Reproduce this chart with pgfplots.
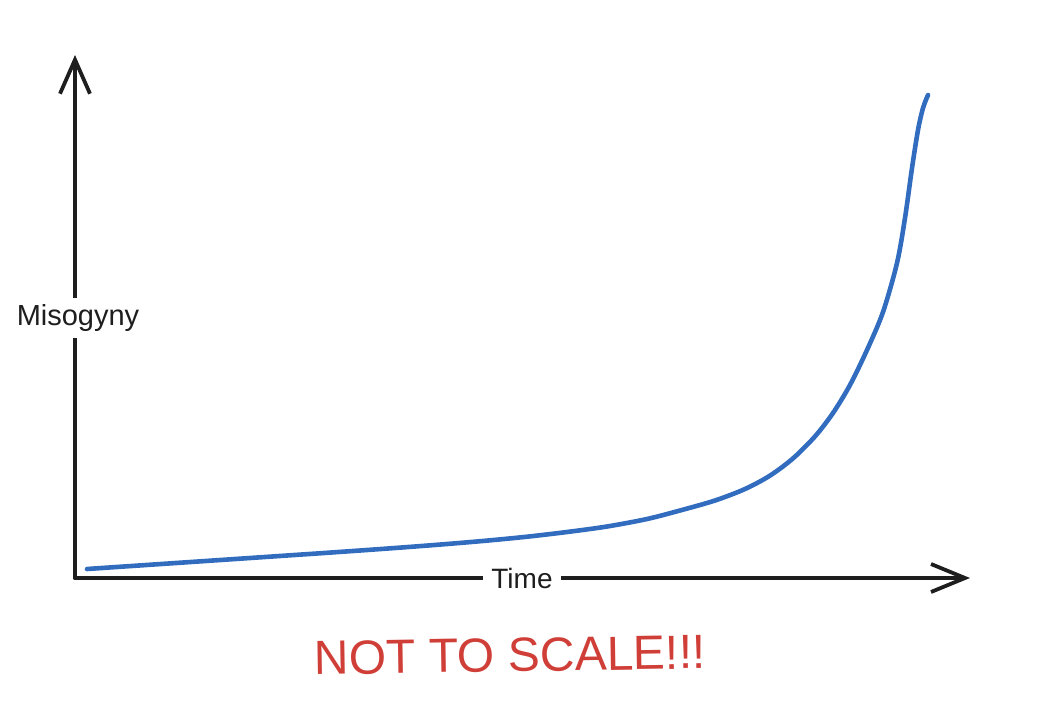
\documentclass[border=0pt]{standalone}
\usepackage{pgfplots}
\pgfplotsset{compat=1.18}
\usepackage{fontspec}
\setmainfont{Liberation Sans}
\usetikzlibrary{arrows.meta}
\definecolor{curveblue}{RGB}{49,108,191}
\definecolor{scalered}{RGB}{208,62,56}
\definecolor{axisblack}{RGB}{30,30,30}
\begin{document}
\begin{tikzpicture}
\begin{axis}[
  at={(0,0)}, anchor=origin,
  scale only axis, width=447.5pt, height=261.5pt,
  xmin=0, xmax=895, ymin=0, ymax=523,
  hide axis, clip=false,
]
% axes
\addplot[axisblack, line width=1.9pt, line cap=round, -{Straight Barb[length=17pt,width=14pt,line width=1.9pt]}]
  coordinates {(0,0) (895,0)};
\addplot[axisblack, line width=1.9pt, line cap=round, -{Straight Barb[length=17pt,width=15pt,line width=1.9pt]}]
  coordinates {(0,0) (0,523)};
% curve
\addplot[curveblue, line width=2.3pt, line cap=round, smooth, tension=0.5] coordinates {
(12,9) (52,11.7) (92,14.4) (132,17.1) (172,19.8) (212,22.5) (252,25.2)
(292,28) (332,30.9) (372,34) (412,37.4) (452,41.3) (492,46) (532,51.5)
(572,59) (605,67.5) (640,77.5) (670,89) (695,102.4) (718,119.6)
(740,141.6) (758,165) (775,193) (792,228) (808,266) (822,315) (830,360)
(837,410) (843,448) (848,470) (853,483)
};
% labels
\node[fill=white, inner sep=3pt, font=\fontsize{14.5}{16}\selectfont, text=axisblack] at (axis cs:3,260) {Misogyny};
\node[fill=white, inner xsep=4pt, inner ysep=2pt, font=\fontsize{14}{16}\selectfont, text=axisblack] at (axis cs:447,0) {Time};
\node[rotate=0.9, font=\fontsize{24}{28}\selectfont, text=scalered] at (axis cs:435,-77) {NOT TO SCALE!!!};
\end{axis}
\pgfresetboundingbox
\path (-37.5pt,-68pt) rectangle (492.5pt,289pt);
\end{tikzpicture}
\end{document}
